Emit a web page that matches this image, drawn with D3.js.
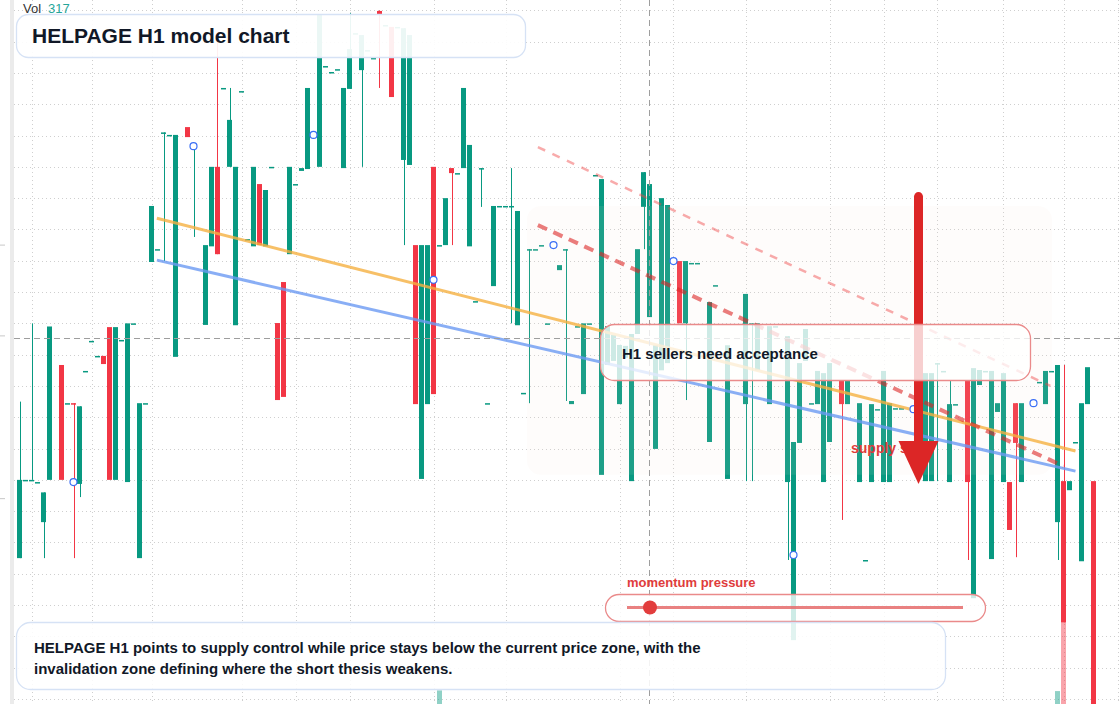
<!DOCTYPE html>
<html lang="en">
<head>
<meta charset="UTF-8">
<title>HELPAGE H1 model chart</title>
<script src="https://d3js.org/d3.v7.min.js"></script>
<style>
  html, body { margin: 0; padding: 0; background: #fff; overflow: hidden; }
  svg { display: block; font-family: "Liberation Sans", Arial, sans-serif; }
</style>
</head>
<body>
<svg id="chart" width="1120" height="704"></svg>
<script>
// one row per H1 bar: [open, close, high, low]; high/low left out = body edge, null = no bar
const candles = [
  [104.5, 107, 109.5], [107, 107], [107, 107, 112], [106.93, 106.93], [105.65, 106.6, null, 104.5],
  [107, 111.9], null, [110.67, 107], [109.45, 109.45], [109.45, 109.42, null, 104.5],
  [106.87, 109.35, null, 106.45], [110.48, 110.48], [111.44, 111.44], [110.96, 110.96], [110.96, 110.7],
  [111.88, 107], [107, 111.88], [111.47, 111.47], [106.93, 112], [112, 112],
  [104.5, 109.45], [109.45, 109.45], [113.96, 115.75], [114.37, 114.37], [118.1, 118.1, null, 113.99],
  [118.02, 118.02], [110.93, 118.02], null, [118.27, 117.95], [117.66, 117.68, null, 114.76],
  null, [111.95, 114.5], [114.46, 117], [117, 114.21, 121.0], [119.52, 119.52],
  [117, 118.5, 119.52], [111.94, 117], [119.42, 119.42], [114.69, 114.69], [114.46, 117],
  [116.45, 114.5], [114.46, 116.26], [117, 117], [112.01, 109.55], [113.32, 109.65],
  [114.21, 117], [116.45, 116.45], [116.87, 116.96], [116.93, 119.52], null,
  [117, 121.85], [120.22, 120.22], [120.03, 120.03], [120.12, 120.12], [116.96, 119.52],
  [119.49, 120.76, 121.91], [121.27, 121.27], [120.09, 121.21, null, 117], [120.73, 120.73], [120.48, 120.48],
  [121.98, 121.88, 122.0, 119.52], [121.53, 121.53], [121.47, 119.23], [121.47, 121.47], [117.22, 121.43, null, 114.5],
  [117.06, 121.21], [114.5, 109.42], [107.03, 114.5], [109.42, 114.5], [117, 109.74],
  [114.5, 114.5], [114.5, 116], [116.96, 116.8, null, 114.5], [116.8, 116.8], [116.96, 119.52],
  [114.46, 117.7], [112.71, 112.71], [116.96, 116.96, null, 115.72], [109.45, 109.45], [113.19, 115.75],
  [115.75, 115.75], [115.75, 115.75], [115.75, 115.75, 116.96, 112], [111.94, 115.59], [109.78, 109.78],
  [114.37, 114.37, null, 109.45], [114.37, 114.37], [114.5, 114.5], [112, 112], null,
  [113.7, 113.86], [114.37, 114.37, null, 109.52], [109.42, 109.52], [111.91, 111.91], [109.74, 112],
  [112, 112], [116.74, 116.74], [107.16, 116.61], [110.67, 111.91], [110.8, 111.63],
  [109.42, 111.31], [110.9, 111.28], [106.96, 111.66], [111.66, 114.37], [115.72, 116.83, null, 114.37],
  [112.2, 116.45], [107.99, 111.3], [110.5, 116.0], [110.73, 115.78], null,
  [113.99, 112], [112, 113.99, null, 109.55], [113.93, 113.93], [113.93, 113.93], null,
  [108.21, 112.68], [113.22, 113.22], null, [107.03, 111.3], null,
  null, [109.42, 112.94, null, 106.96], [112, 112, null, 106.96], [110.5, 112], null,
  [109.42, 111.91], [111.91, 111.91], null, [106.93, 111.59, null, 104.44], [101.88, 108.21],
  [108.18, 110.73], [110.8, 111.82], [109.45, 109.45], [109.42, 110.48], [106.93, 110.41],
  [108.21, 110.73], null, [110.19, 109.42, null, 105.72], [109.42, 110.16], null,
  [106.93, 109.45], [104.44, 104.44], [106.93, 109.42], [109.26, 109.26], [106.93, 110.48],
  [106.93, 109.45], [109.29, 109.29], [109.29, 109.29], null, null,
  null, [106.96, 110.41], [106.96, 110.41], [110.73, 110.73, null, 106.96], [110.48, 110.48],
  [106.93, 109.42, 110.19], [109.42, 109.42], null, [110.19, 106.93, null, 104.44], [103.22, 110.57],
  [110.03, 110.51], [110.48, 110.48], [104.47, 110.48], [109.17, 109.45], [106.93, 110.41],
  [106.93, 105.4], [109.45, 108.18, null, 104.53], [106.93, 109.45], null, null,
  [110.13, 110.13], [109.42, 110.48], [110.48, 110.48], [105.65, 110.67, null, 104.44], [106.96, 102.45, 110.67],
  [106.67, 106.96], [108.21, 108.21], [104.4, 109.45], [109.42, 110.6], [106.96, 99.5]
];

// volume pane: [bar index, volume]
const volumes = [[70, 55], [173, 52], [174, 330], [179, 317]];

// model markers every 20 bars: [bar index, price]
const markers = [[9, 106.93], [29, 117.66], [49, 118.02], [69, 113.39], [89, 114.5],
                 [109, 113.99], [129, 104.6], [149, 109.26], [169, 109.45]];

// session grid columns (bar index) and price grid rows
const timeTicks = [2, 12, 22, 37, 46, 55, 69, 81, 100, 109, 121, 135, 144, 153, 164, 174, 183];
const priceTicks = d3.range(100, 123, 1);

// model lines: [bar index, price] pairs
const fastLine = [[22.9, 115.36], [176, 107.92]];
const slowLine = [[22.9, 114.02], [176, 107.28]];
const supplyLine = [[86.4, 115.14], [174, 107.44]];
const upperLine = [[86.4, 117.63], [171.8, 110.0]];
const supplyZone = { from: 85, to: 172.5, top: 115.75, bottom: 107.16 };
const crosshair = { bar: 105, price: 111.53 };
const arrow = { bar: 150, from: 116.05, to: 106.87 };
const lastVol = 317;

const W = 1120, H = 704;
const UP = "#089981", DOWN = "#f23645";
const svg = d3.select("#chart");

const x = d3.scaleLinear().domain([0, 180]).range([17, 1097]);   // left edge of bar slot
const bw = 5;
const cx = i => x(i) + bw / 2;
const y = d3.scaleLinear().domain([99.84, 122.33]).range([H, 0]);
const vy = d3.scaleLinear().domain([0, 330]).range([0, 82]);

svg.append("rect").attr("width", W).attr("height", H).attr("fill", "#fff");
svg.append("rect").attr("x", 10).attr("y", 0).attr("width", 4).attr("height", H).attr("fill", "#ebebeb");

// grid
const grid = svg.append("g").attr("stroke", "#cfcfcf").attr("stroke-dasharray", "1,3");
grid.selectAll(".gy").data(priceTicks).join("line")
  .attr("x1", 14).attr("x2", W).attr("y1", d => Math.round(y(d)) + 0.5).attr("y2", d => Math.round(y(d)) + 0.5);
grid.selectAll(".gx").data(timeTicks).join("line")
  .attr("x1", d => Math.round(cx(d)) + 0.5).attr("x2", d => Math.round(cx(d)) + 0.5).attr("y1", 0).attr("y2", H);

// tiny clipped price labels at far left
svg.selectAll(".lbl").data([114.5, 111.6, 106.4]).join("line")
  .attr("x1", 0).attr("x2", 5).attr("y1", d => y(d)).attr("y2", d => y(d))
  .attr("stroke", "#c8c8c8");

// volume
svg.append("g").selectAll("rect").data(volumes).join("rect")
  .attr("x", d => x(d[0])).attr("width", bw)
  .attr("y", d => H - vy(d[1])).attr("height", d => vy(d[1]))
  .attr("fill", d => {
    const c = candles[d[0]];
    return c && c[1] < c[0] ? DOWN : UP;
  })
  .attr("opacity", 0.45);

// candles
const bars = candles.map((c, i) => c && ({
  i, o: c[0], c: c[1],
  h: c[2] != null ? c[2] : Math.max(c[0], c[1]),
  l: c[3] != null ? c[3] : Math.min(c[0], c[1])
})).filter(d => d);

const cg = svg.append("g");
cg.selectAll("line").data(bars.filter(d => d.h > Math.max(d.o, d.c) || d.l < Math.min(d.o, d.c))).join("line")
  .attr("x1", d => Math.round(cx(d.i)) + 0.5).attr("x2", d => Math.round(cx(d.i)) + 0.5)
  .attr("y1", d => y(d.h)).attr("y2", d => y(d.l))
  .attr("stroke", d => d.c < d.o ? DOWN : UP).attr("stroke-width", 1);
cg.selectAll("rect").data(bars).join("rect")
  .attr("x", d => x(d.i)).attr("width", bw)
  .attr("y", d => Math.min(y(d.o), y(d.c)))
  .attr("height", d => Math.max(1.5, Math.abs(y(d.o) - y(d.c))))
  .attr("fill", d => d.c < d.o ? DOWN : UP);

// supply zone shading over the bars
svg.append("rect")
  .attr("x", x(supplyZone.from)).attr("width", x(supplyZone.to) - x(supplyZone.from))
  .attr("y", y(supplyZone.top)).attr("height", y(supplyZone.bottom) - y(supplyZone.top))
  .attr("rx", 14).attr("fill", "rgb(240,225,210)").attr("fill-opacity", 0.09);

const line = d3.line().x(d => cx(d[0])).y(d => y(d[1]));
svg.append("path").attr("d", line(fastLine)).attr("fill", "none")
  .attr("stroke", "#f5b041").attr("stroke-opacity", 0.8).attr("stroke-width", 3);
svg.append("path").attr("d", line(slowLine)).attr("fill", "none")
  .attr("stroke", "#6b9af2").attr("stroke-opacity", 0.8).attr("stroke-width", 3);
svg.append("path").attr("d", line(upperLine)).attr("fill", "none")
  .attr("stroke", "#ef4444").attr("stroke-opacity", 0.45).attr("stroke-width", 2.5)
  .attr("stroke-dasharray", "8,8");
svg.append("path").attr("d", line(supplyLine)).attr("fill", "none")
  .attr("stroke", "#dc2626").attr("stroke-opacity", 0.6).attr("stroke-width", 4)
  .attr("stroke-dasharray", "10,7");

// markers
svg.append("g").selectAll("circle").data(markers).join("circle")
  .attr("cx", d => cx(d[0])).attr("cy", d => y(d[1])).attr("r", 3.5)
  .attr("fill", "#fff").attr("stroke", "#3b6ff5").attr("stroke-width", 1.2);

// crosshair
svg.append("line")
  .attr("x1", Math.round(cx(crosshair.bar)) - 0.5).attr("x2", Math.round(cx(crosshair.bar)) - 0.5)
  .attr("y1", 0).attr("y2", H)
  .attr("stroke", "#9e9e9e").attr("stroke-dasharray", "6,4");
svg.append("line")
  .attr("x1", 14).attr("x2", W)
  .attr("y1", Math.round(y(crosshair.price)) + 0.5).attr("y2", Math.round(y(crosshair.price)) + 0.5)
  .attr("stroke", "#9e9e9e").attr("stroke-dasharray", "6,4");

// supply label, then the arrow over it
svg.append("text").attr("x", 851).attr("y", 453)
  .attr("font-size", 14).attr("font-weight", "bold").attr("fill", "#e03c3c")
  .text("supply side");
const ax = cx(arrow.bar) - 1;
svg.append("line")
  .attr("x1", ax).attr("x2", ax).attr("y1", y(arrow.from)).attr("y2", y(arrow.to) - 30)
  .attr("stroke", "#dc2626").attr("stroke-width", 9).attr("stroke-linecap", "round");
svg.append("path")
  .attr("d", `M${ax - 20},${y(arrow.to) - 43} L${ax + 20},${y(arrow.to) - 43} L${ax},${y(arrow.to)} Z`)
  .attr("fill", "#dc2626");

// annotation boxes
svg.append("rect").attr("x", 600.5).attr("y", 324.5).attr("width", 430).attr("height", 56).attr("rx", 14)
  .attr("fill", "#fff").attr("fill-opacity", 0.78).attr("stroke", "#ea8a8a").attr("stroke-width", 1.3);
svg.append("text").attr("x", 622).attr("y", 359).attr("font-size", 15).attr("font-weight", "bold")
  .attr("fill", "#111827").text("H1 sellers need acceptance");

svg.append("text").attr("x", 627).attr("y", 587).attr("font-size", 13).attr("font-weight", "bold")
  .attr("fill", "#e03c3c").text("momentum pressure");
svg.append("rect").attr("x", 605.5).attr("y", 594.5).attr("width", 380).attr("height", 27).attr("rx", 13.5)
  .attr("fill", "#fff").attr("fill-opacity", 0.8).attr("stroke", "#ea8a8a").attr("stroke-width", 1.3);
svg.append("line").attr("x1", 627).attr("x2", 963).attr("y1", 607.5).attr("y2", 607.5)
  .attr("stroke", "#e56b6b").attr("stroke-opacity", 0.85).attr("stroke-width", 3);
svg.append("circle").attr("cx", 650).attr("cy", 607.5).attr("r", 7).attr("fill", "#e23d3d");

svg.append("rect").attr("x", 16.5).attr("y", 622.5).attr("width", 929).attr("height", 67).attr("rx", 14)
  .attr("fill", "#fff").attr("fill-opacity", 0.88).attr("stroke", "#d6e2f5").attr("stroke-width", 1.3);
svg.append("text").attr("x", 34).attr("y", 653).attr("font-size", 15).attr("font-weight", "bold")
  .attr("fill", "#111827")
  .text("HELPAGE H1 points to supply control while price stays below the current price zone, with the");
svg.append("text").attr("x", 34).attr("y", 674).attr("font-size", 15).attr("font-weight", "bold")
  .attr("fill", "#111827")
  .text("invalidation zone defining where the short thesis weakens.");

svg.append("rect").attr("x", 16.5).attr("y", 14.5).attr("width", 509).attr("height", 43).attr("rx", 12)
  .attr("fill", "#fff").attr("fill-opacity", 0.92).attr("stroke", "#d6e2f5").attr("stroke-width", 1.3);
svg.append("text").attr("x", 32).attr("y", 43).attr("font-size", 21).attr("font-weight", "bold")
  .attr("fill", "#111827").text("HELPAGE H1 model chart");

const vol = svg.append("text").attr("x", 23).attr("y", 13).attr("font-size", 13);
vol.append("tspan").attr("fill", "#333").text("Vol");
vol.append("tspan").attr("dx", 7).attr("fill", "#26a69a").text(lastVol);
</script>
</body>
</html>
